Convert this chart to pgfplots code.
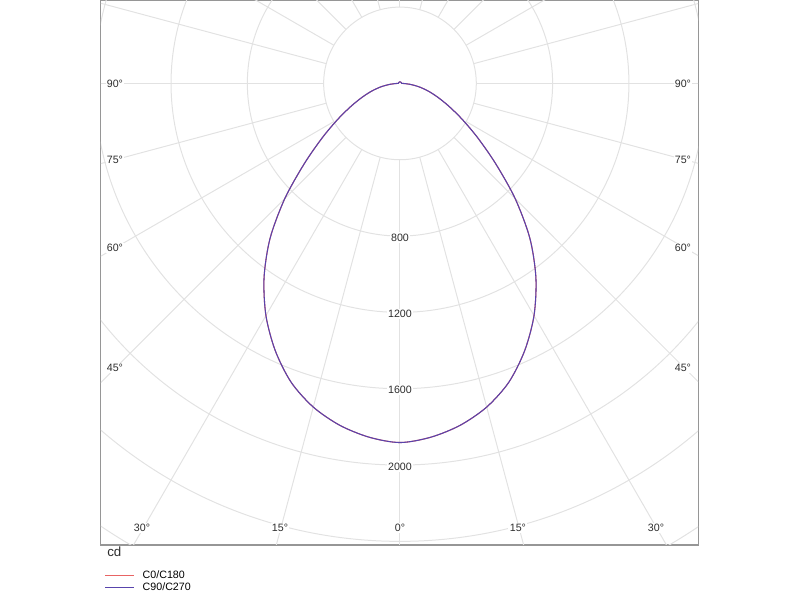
\documentclass[border=0pt]{standalone}
\usepackage{fontspec}
\setmainfont{Liberation Sans}
\usepackage{pgfplots}
\pgfplotsset{compat=1.18}
\usepackage{pgfplotstable}

\definecolor{gridgray}{RGB}{226,226,226}
\definecolor{framegray}{RGB}{150,150,150}
\definecolor{cred}{RGB}{232,100,100}
\definecolor{cblue}{RGB}{88,68,172}
\definecolor{labelgray}{RGB}{45,45,45}
\tikzset{lbl/.style={font=\fontsize{8}{9}\selectfont, text=labelgray, fill=white, inner sep=1pt}}
\pgfplotsset{legend image code/.code={\draw[#1, line width=1.1pt] (0pt,0pt) -- (21.75pt,0pt);}}

% luminous intensity (cd) against gamma angle, 0 = straight down
\pgfplotstableread{
g I
-180 8
-170 8
-160 8
-150 8
-140 8
-130 8
-120 8
-110 8
-100 8
-95 9
-90 16
-85 52
-80 100
-75 152
-70 210
-65 283
-60 377
-55 498
-50 655
-45 854
-40 1059
-35 1242
-30 1405
-25 1546
-20 1667
-15 1756
-10 1819
-5 1861
0 1882
5 1861
10 1819
15 1756
20 1667
25 1546
30 1405
35 1242
40 1059
45 854
50 655
55 498
60 377
65 283
70 210
75 152
80 100
85 52
90 16
95 9
100 8
110 8
120 8
130 8
140 8
150 8
160 8
170 8
180 8
}\ldc

\begin{document}
\begin{tikzpicture}
\begin{axis}[name=ax,
  scale only axis, width=447.75pt, height=408pt,
  xmin=-1567, xmax=1562, ymin=-2419, ymax=432,
  axis line style={framegray, line width=0.75pt},
  xtick=\empty, ytick=\empty,
  legend style={at={(axis description cs:0,0)}, anchor=north west,
    xshift=2.25pt, yshift=-17.125pt, draw=none, fill=none, inner sep=0pt,
    font=\fontsize{8}{9}\selectfont, row sep=-2.25pt, column sep=4pt},
  legend cell align=left,
]
% polar grid
\pgfplotsinvokeforeach{400,800,...,2800}{
  \draw[gridgray, line width=0.75pt] (axis cs:0,0) circle[radius=#1];
}
\pgfplotsinvokeforeach{0,15,...,345}{
  \draw[gridgray, line width=0.75pt] (axis cs:{400*cos(#1)},{400*sin(#1)}) -- (axis cs:{4000*cos(#1)},{4000*sin(#1)});
}
% ring values
\node[lbl] at (axis cs:0,-808) {800};
\node[lbl] at (axis cs:0,-1208) {1200};
\node[lbl] at (axis cs:0,-1608) {1600};
\node[lbl] at (axis cs:0,-2008) {2000};
% angle labels
\node[lbl] at (axis cs:-1494,-3) {90°};
\node[lbl] at (axis cs:1483,-3) {90°};
\node[lbl] at (axis cs:-1494,-402) {75°};
\node[lbl] at (axis cs:1483,-402) {75°};
\node[lbl] at (axis cs:-1494,-863) {60°};
\node[lbl] at (axis cs:1483,-863) {60°};
\node[lbl] at (axis cs:-1494,-1492) {45°};
\node[lbl] at (axis cs:1483,-1492) {45°};
\node[lbl] at (axis cs:-1352,-2330) {30°};
\node[lbl] at (axis cs:-629,-2330) {15°};
\node[lbl] at (axis cs:0,-2330) {0°};
\node[lbl] at (axis cs:618,-2330) {15°};
\node[lbl] at (axis cs:1342,-2330) {30°};

\addplot[cred, line width=0.8pt, smooth, mark=none]
  table[x expr={\thisrow{I}*sin(\thisrow{g})}, y expr={-\thisrow{I}*cos(\thisrow{g})}] {\ldc};
\addlegendentry{C0/C180}
\addplot[cblue, line width=0.8pt, smooth, mark=none]
  table[x expr={\thisrow{I}*sin(\thisrow{g})}, y expr={-\thisrow{I}*cos(\thisrow{g})}] {\ldc};
\addlegendentry{C90/C270}
\end{axis}
\node[anchor=base west, inner sep=0pt, font=\fontsize{10}{12}\selectfont, text=labelgray]
  at ([xshift=4.5pt, yshift=-8.5pt]ax.south west) {cd};
\pgfresetboundingbox
\path[use as bounding box] ([xshift=-75.75pt,yshift=-41.25pt]ax.south west) rectangle ([xshift=76.5pt,yshift=0.75pt]ax.north east);
\end{tikzpicture}
\end{document}
